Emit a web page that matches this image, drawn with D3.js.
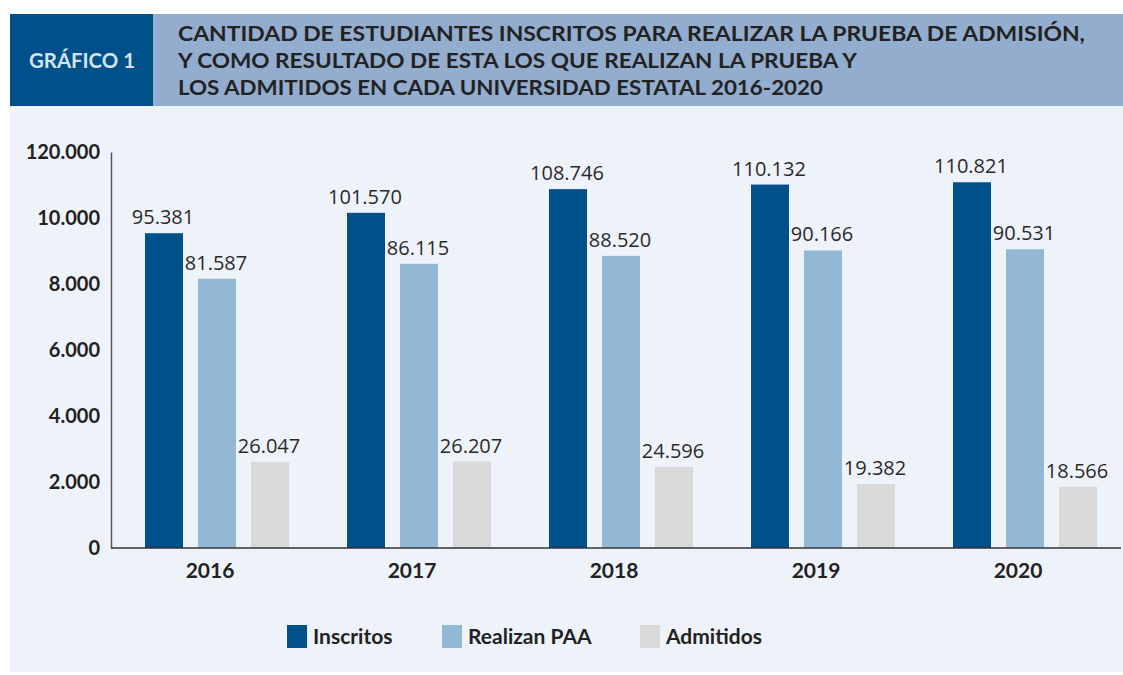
<!DOCTYPE html>
<html>
<head>
<meta charset="utf-8">
<script src="https://cdn.jsdelivr.net/npm/d3@7"></script>
<style>
  body { margin: 0; background: #fff; }
  svg { display: block; }
</style>
</head>
<body>
<div class="canva"></div>
<script>
// data
const years = ['2016', '2017', '2018', '2019', '2020']
const series = ['Inscritos', 'Realizan PAA', 'Admitidos']
const inscritos = [95381, 101570, 108746, 110132, 110821]
const realizan = [81587, 86115, 88520, 90166, 90531]
const admitidos = [26047, 26207, 24596, 19382, 18566]
const tickValues = [0, 20000, 40000, 60000, 80000, 100000, 120000]
const tickLabels = ['0', '2.000', '4.000', '6.000', '8.000', '10.000', '120.000']
const titleLines = [
  'CANTIDAD DE ESTUDIANTES INSCRITOS PARA REALIZAR LA PRUEBA DE ADMISIÓN,',
  'Y COMO RESULTADO DE ESTA LOS QUE REALIZAN LA PRUEBA Y',
  'LOS ADMITIDOS EN CADA UNIVERSIDAD ESTATAL 2016-2020'
]
const colors = ['#00518a', '#93b8d3', '#d9d9d9']

const W = 1123, H = 675
const svg = d3.select('.canva').append('svg')
    .attr('width', W)
    .attr('height', H)

// panel + header
svg.append('rect').attr('x', 10).attr('y', 106).attr('width', W - 10).attr('height', 566).attr('fill', '#eef3fa')
svg.append('rect').attr('x', 153).attr('y', 14).attr('width', W - 153).attr('height', 92).attr('fill', '#93adcf')
svg.append('rect').attr('x', 10).attr('y', 14).attr('width', 143).attr('height', 92).attr('fill', '#00518a')

svg.append('text')
    .text('GRÁFICO 1')
    .attr('x', 82).attr('y', 68)
    .attr('text-anchor', 'middle')
    .attr('fill', '#d6e2ef')
    .attr('textLength', 106)
    .attr('lengthAdjust', 'spacingAndGlyphs')
    .style('font-family', 'Lato')
    .style('font-weight', 'bold')
    .style('font-size', '20px')

const titleWidths = [907, 679, 645]
svg.selectAll('.title').data(titleLines).enter().append('text')
    .attr('class', 'title')
    .text(d => d)
    .attr('x', 178)
    .attr('y', (d, i) => 41 + i * 27)
    .attr('fill', '#222')
    .attr('textLength', (d, i) => titleWidths[i])
    .attr('lengthAdjust', 'spacingAndGlyphs')
    .style('font-family', 'Lato')
    .style('font-weight', 'bold')
    .style('font-size', '21px')

// scales
const x0 = d3.scaleBand().domain(years).range([116, 1126]).padding(0)
const y = d3.scaleLinear().domain([0, 120000]).range([548, 152])

const table = years.map((yr, i) => ({
  year: yr,
  vals: [inscritos[i], realizan[i], admitidos[i]]
}))

const barW = 38
const offsets = [-53, 0, 53]
const group = svg.selectAll('.group').data(table).enter().append('g')
    .attr('class', 'group')
    .attr('transform', d => `translate(${x0(d.year) + x0.bandwidth() / 2},0)`)

group.selectAll('rect').data(d => d.vals.map((v, j) => ({ v, j }))).enter().append('rect')
    .attr('x', d => offsets[d.j] - barW / 2)
    .attr('y', d => y(d.v))
    .attr('width', barW)
    .attr('height', d => y(0) - y(d.v))
    .attr('fill', d => colors[d.j])

group.selectAll('.val').data(d => d.vals.map((v, j) => ({ v, j }))).enter().append('text')
    .attr('class', 'val')
    .text(d => d3.format(',')(d.v).replace(/,/g, '.'))
    .attr('x', d => offsets[d.j] - 1)
    .attr('y', d => y(d.v) - 9)
    .attr('text-anchor', 'middle')
    .attr('fill', '#2a2a2a')
    .style('font-family', 'Open Sans')
    .style('font-size', '20px')

// axes
const yAxis = svg.append('g')
    .attr('transform', 'translate(111,0)')
    .call(d3.axisLeft(y).tickValues(tickValues).tickFormat((d, i) => tickLabels[i]).tickSize(0).tickPadding(11))
yAxis.select('.domain').attr('stroke', '#555').attr('stroke-width', 1.5)
yAxis.selectAll('text')
    .attr('fill', '#222')
    .style('font-family', 'Lato')
    .style('font-weight', 'bold')
    .style('font-size', '20px')

const xAxis = svg.append('g')
    .attr('transform', 'translate(0,548)')
    .call(d3.axisBottom(x0).tickSize(0).tickPadding(15))
xAxis.select('.domain').attr('d', 'M111,0H1121').attr('stroke', '#333').attr('stroke-width', 1.5)
xAxis.selectAll('text')
    .attr('dx', -7)
    .attr('fill', '#222')
    .style('font-family', 'Lato')
    .style('font-weight', 'bold')
    .style('font-size', '21px')

// legend
const legendX = [287, 442, 640]
const legend = svg.selectAll('.legend').data(series).enter().append('g')
    .attr('class', 'legend')
    .attr('transform', (d, i) => `translate(${legendX[i]},625)`)
legend.append('rect')
    .attr('width', 20).attr('height', 23)
    .attr('fill', (d, i) => colors[i])
legend.append('text')
    .text(d => d)
    .attr('x', 26).attr('y', 19)
    .attr('fill', '#222')
    .style('font-family', 'Lato')
    .style('font-weight', 'bold')
    .style('font-size', '21px')
</script>
</body>
</html>
